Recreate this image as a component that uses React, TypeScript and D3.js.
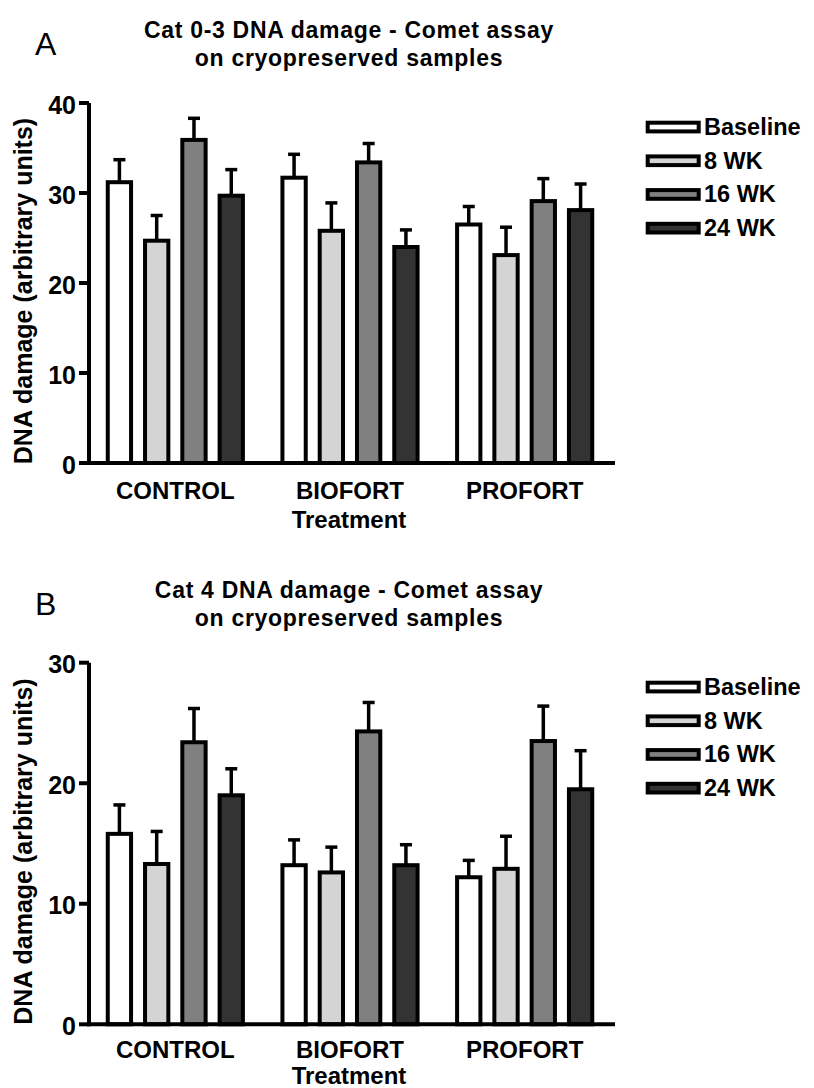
import React from "react";
import * as d3 from "d3";

// groups on the x axis and the four time points
const groups = ["CONTROL", "BIOFORT", "PROFORT"];
const series = ["Baseline", "8 WK", "16 WK", "24 WK"];
const fills = ["#ffffff", "#d4d4d4", "#808080", "#333333"];

// panel A: Cat 0-3, means and SEM per group (Baseline, 8, 16, 24 WK)
const cat03Means = [
  [31.2, 24.7, 35.9, 29.7],
  [31.7, 25.8, 33.4, 24.0],
  [26.5, 23.1, 29.1, 28.1],
];
const cat03Sem = [
  [2.5, 2.8, 2.4, 2.9],
  [2.6, 3.1, 2.1, 1.9],
  [2.0, 3.1, 2.5, 2.9],
];
const cat03Ticks = [0, 10, 20, 30, 40];

// panel B: Cat 4
const cat4Means = [
  [15.8, 13.3, 23.4, 19.0],
  [13.2, 12.6, 24.3, 13.2],
  [12.2, 12.9, 23.5, 19.5],
];
const cat4Sem = [
  [2.4, 2.7, 2.8, 2.2],
  [2.1, 2.1, 2.4, 1.7],
  [1.4, 2.7, 2.9, 3.2],
];
const cat4Ticks = [0, 10, 20, 30];

const font = "'Liberation Sans', Arial, Helvetica, sans-serif";

type PanelProps = {
  letter: string;
  title: string[];
  means: number[][];
  sems: number[][];
  ticks: number[];
  top: number;
  bottom: number;
  dy: number;
  catDy: number;
  treatDy: number;
};

const Panel = ({ letter, title, means, sems, ticks, top, bottom, dy, catDy, treatDy }: PanelProps) => {
  const axisX = 89;
  const x0 = d3.scaleBand().domain(groups).range([88, 612]);
  const x1 = d3
    .scaleBand()
    .domain(series)
    .range([0, x0.bandwidth()])
    .paddingInner(0.375)
    .paddingOuter(0.53);
  const y = d3
    .scaleLinear()
    .domain([0, d3.max(ticks) as number])
    .range([bottom, top]);
  const capW = 12;

  return (
    <g fontFamily={font}>
      <text x={35} y={55 + dy} fontSize={32}>{letter}</text>
      {title.map((t, i) => (
        <text key={t} x={349} y={38 + dy + i * 28} textAnchor="middle" fontSize={23} fontWeight="bold" letterSpacing={0.7}>
          {t}
        </text>
      ))}
      <text
        transform={`translate(32,${(top + bottom) / 2 + 8}) rotate(-90)`}
        textAnchor="middle"
        fontSize={25}
        fontWeight="bold"
      >
        DNA damage (arbitrary units)
      </text>

      {groups.map((g, gi) => (
        <g key={g} transform={`translate(${x0(g)},0)`}>
          {series.map((s, si) => {
            const v = means[gi][si];
            const e = sems[gi][si];
            const bx = x1(s) as number;
            const cx = bx + x1.bandwidth() / 2;
            return (
              <g key={s}>
                <line x1={cx} x2={cx} y1={y(v)} y2={y(v + e)} stroke="#000" strokeWidth={3.5} />
                <line x1={cx - capW / 2} x2={cx + capW / 2} y1={y(v + e)} y2={y(v + e)} stroke="#000" strokeWidth={3.5} />
                <rect
                  x={bx}
                  y={y(v)}
                  width={x1.bandwidth()}
                  height={y(0) - y(v)}
                  fill={fills[si]}
                  stroke="#000"
                  strokeWidth={4}
                />
              </g>
            );
          })}
        </g>
      ))}

      {/* axes */}
      <line x1={axisX} x2={axisX} y1={top} y2={bottom + 2} stroke="#000" strokeWidth={4} />
      <line x1={axisX - 2} x2={615} y1={bottom} y2={bottom} stroke="#000" strokeWidth={4} />
      {ticks.map((t) => (
        <g key={t}>
          <line x1={79} x2={axisX} y1={y(t)} y2={y(t)} stroke="#000" strokeWidth={4} />
          <text x={76} y={y(t)} dy="0.42em" textAnchor="end" fontSize={25} fontWeight="bold">
            {t}
          </text>
        </g>
      ))}
      {groups.map((g) => (
        <text key={g} x={(x0(g) as number) + x0.bandwidth() / 2} y={bottom + catDy} textAnchor="middle" fontSize={24} fontWeight="bold">
          {g}
        </text>
      ))}
      <text x={349} y={bottom + treatDy} textAnchor="middle" fontSize={24} fontWeight="bold">
        Treatment
      </text>

      {/* legend */}
      {series.map((s, i) => (
        <g key={s} transform={`translate(0,${dy + i * 33.7})`}>
          <rect x={647.7} y={122.7} width={51} height={8.7} fill={fills[i]} stroke="#000" strokeWidth={4} />
          <text x={704} y={135} fontSize={23.5} fontWeight="bold">
            {s}
          </text>
        </g>
      ))}
    </g>
  );
};

export default function App() {
  return (
    <svg
      width={814}
      height={1088}
      style={{ position: "absolute", left: 0, top: 0, background: "#fff" }}
    >
      <Panel
        letter="A"
        title={["Cat 0-3 DNA damage - Comet assay", "on cryopreserved samples"]}
        means={cat03Means}
        sems={cat03Sem}
        ticks={cat03Ticks}
        top={103}
        bottom={463}
        dy={0}
        catDy={36}
        treatDy={65}
      />
      <Panel
        letter="B"
        title={["Cat 4 DNA damage - Comet assay", "on cryopreserved samples"]}
        means={cat4Means}
        sems={cat4Sem}
        ticks={cat4Ticks}
        top={662.7}
        bottom={1024.3}
        dy={560}
        catDy={34}
        treatDy={60}
      />
    </svg>
  );
}
